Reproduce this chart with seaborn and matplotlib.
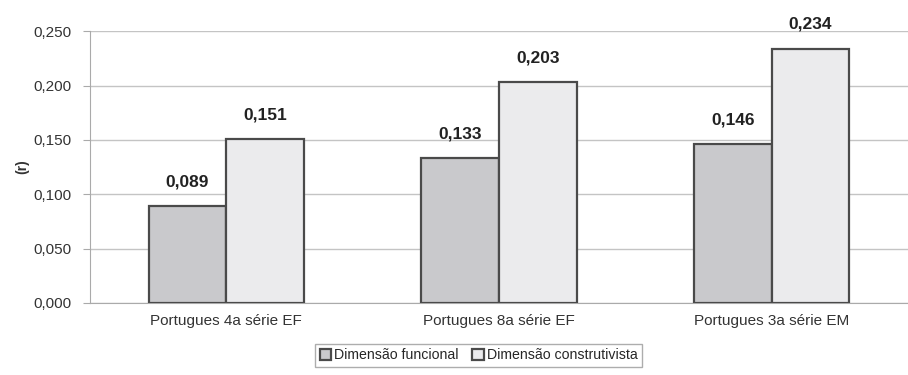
import pandas as pd
import seaborn as sns
import matplotlib.pyplot as plt

## Correlação (r) por série e dimensão

categorias = ["Portugues 4a série EF", "Portugues 8a série EF", "Portugues 3a série EM"]
funcional = [0.089, 0.133, 0.146]
construtivista = [0.151, 0.203, 0.234]
dimensoes = ["Dimensão funcional", "Dimensão construtivista"]

df = pd.DataFrame({
    "Categoria": categorias * 2,
    "r": funcional + construtivista,
    "Dimensao": [dimensoes[0]] * 3 + [dimensoes[1]] * 3,
})

sns.set_style("white")
plt.rcParams["font.family"] = ["Liberation Sans", "DejaVu Sans"]

fig = plt.figure(figsize=(9.08, 3.75), dpi=100)
ax = fig.add_axes([0.099, 0.192, 0.901, 0.725])

sns.barplot(data=df, x="Categoria", y="r", hue="Dimensao", hue_order=dimensoes,
            palette=["#c8c9cc", "#ebebed"], width=0.57, gap=0,
            edgecolor="#4a4a4a", linewidth=1.6, ax=ax, legend=True, zorder=3)

for cont in ax.containers:
    ax.bar_label(cont, labels=[f"{v:.3f}".replace(".", ",") for v in cont.datavalues],
                 padding=12, fontsize=12.5, fontweight="bold", color="#222222")

ax.set_xlim(-0.5, 2.5)
ax.set_ylim(0, 0.25)
ax.set_yticks([0, 0.05, 0.1, 0.15, 0.2, 0.25])
ax.set_yticklabels([f"{v:.3f}".replace(".", ",") for v in ax.get_yticks()],
                   fontsize=11, color="#333333")
ax.tick_params(axis="x", labelsize=11, colors="#333333", length=0, pad=8)
ax.tick_params(axis="y", left=True, length=5, color="#aaaaaa", pad=8)
ax.yaxis.grid(True, color="#c4c4c4", linewidth=1, zorder=0)
ax.set_axisbelow(True)

for s in ["top", "right"]:
    ax.spines[s].set_visible(False)
ax.spines["left"].set_color("#aaaaaa")
ax.spines["bottom"].set_color("#aaaaaa")

ax.set_xlabel("")
ax.set_ylabel("(r)", fontsize=10, fontweight="bold", color="#333333", labelpad=3)

handles, labels = ax.get_legend_handles_labels()
ax.legend(handles, labels, loc="upper center", bbox_to_anchor=(0.475, -0.125), ncol=2,
          frameon=True, fancybox=False, edgecolor="#999999", fontsize=10.2,
          handlelength=0.8, handleheight=0.8, handletextpad=0.2, columnspacing=1.0,
          borderpad=0.3)

fig.savefig("out.png", dpi=100)
